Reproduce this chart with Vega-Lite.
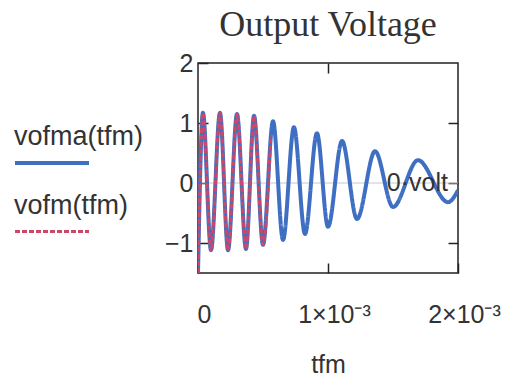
{
  "$schema": "https://vega.github.io/schema/vega-lite/v6.json",
  "width": 260,
  "height": 210,
  "autosize": {"type": "none"},
  "padding": {"left": 198, "top": 63, "right": 59, "bottom": 112},
  "background": "white",
  "title": {"text": "Output Voltage", "font": "Liberation Serif", "fontSize": 36, "fontWeight": "normal", "color": "#333333", "anchor": "middle", "baseline": "alphabetic", "offset": -21},
  "config": {
    "view": {"stroke": "#222222", "strokeWidth": 1.5},
    "axis": {"grid": false, "domain": false, "tickColor": "#222222", "tickWidth": 1.5, "tickSize": -10, "labelFont": "Liberation Sans", "labelFontSize": 25, "labelColor": "#333333", "labelFlush": false, "labelOverlap": false, "titleFont": "Liberation Sans", "titleFontWeight": "normal", "titleColor": "#333333", "titleFontSize": 25}
  },
  "datasets": {
    "curves": [
      {"series": "vofma(tfm)", "t": 0.0, "v": -1.5},
      {"series": "vofma(tfm)", "t": 0.000038, "v": 1.17},
      {"series": "vofma(tfm)", "t": 0.0001, "v": -1.12},
      {"series": "vofma(tfm)", "t": 0.000169, "v": 1.17},
      {"series": "vofma(tfm)", "t": 0.000231, "v": -1.12},
      {"series": "vofma(tfm)", "t": 0.0003, "v": 1.15},
      {"series": "vofma(tfm)", "t": 0.000369, "v": -1.1},
      {"series": "vofma(tfm)", "t": 0.000431, "v": 1.12},
      {"series": "vofma(tfm)", "t": 0.0005, "v": -1.03},
      {"series": "vofma(tfm)", "t": 0.000577, "v": 1.03},
      {"series": "vofma(tfm)", "t": 0.000654, "v": -0.95},
      {"series": "vofma(tfm)", "t": 0.000738, "v": 0.93},
      {"series": "vofma(tfm)", "t": 0.000823, "v": -0.85},
      {"series": "vofma(tfm)", "t": 0.000915, "v": 0.83},
      {"series": "vofma(tfm)", "t": 0.001, "v": -0.73},
      {"series": "vofma(tfm)", "t": 0.001108, "v": 0.7},
      {"series": "vofma(tfm)", "t": 0.001223, "v": -0.6},
      {"series": "vofma(tfm)", "t": 0.001362, "v": 0.53},
      {"series": "vofma(tfm)", "t": 0.0015, "v": -0.4},
      {"series": "vofma(tfm)", "t": 0.001692, "v": 0.38},
      {"series": "vofma(tfm)", "t": 0.001923, "v": -0.32},
      {"series": "vofma(tfm)", "t": 0.002, "v": -0.12},
      {"series": "vofm(tfm)", "t": 0.0, "v": -1.5},
      {"series": "vofm(tfm)", "t": 0.000038, "v": 1.17},
      {"series": "vofm(tfm)", "t": 0.0001, "v": -1.12},
      {"series": "vofm(tfm)", "t": 0.000169, "v": 1.17},
      {"series": "vofm(tfm)", "t": 0.000231, "v": -1.12},
      {"series": "vofm(tfm)", "t": 0.0003, "v": 1.15},
      {"series": "vofm(tfm)", "t": 0.000369, "v": -1.1},
      {"series": "vofm(tfm)", "t": 0.000431, "v": 1.12},
      {"series": "vofm(tfm)", "t": 0.0005, "v": -1.03},
      {"series": "vofm(tfm)", "t": 0.00056, "v": 0.8}
    ]
  },
  "resolve": {"axis": {"x": "independent", "y": "independent"}},
  "layer": [
    {
      "data": {"values": [{"v": 0}]},
      "mark": {"type": "rule", "color": "#c8c8c8", "strokeWidth": 1},
      "encoding": {
        "y": {"field": "v", "type": "quantitative", "scale": {"domain": [-1.5, 2], "nice": false, "zero": false}, "axis": null}
      }
    },
    {
      "data": {"name": "curves"},
      "transform": [{"filter": "datum.series === 'vofma(tfm)'"}],
      "mark": {"type": "line", "opacity": 0},
      "encoding": {
        "x": {"field": "t", "type": "quantitative", "axis": {"orient": "top", "values": [0.001], "labels": false, "title": null}},
        "y": {"field": "v", "type": "quantitative", "axis": {"orient": "right", "values": [-1, 0, 1], "labels": false, "title": null}}
      }
    },
    {
      "data": {"name": "curves"},
      "mark": {"type": "line", "interpolate": "monotone", "clip": true},
      "encoding": {
        "x": {"field": "t", "type": "quantitative", "scale": {"domain": [0, 0.002], "nice": false, "zero": false},
          "axis": {"orient": "bottom", "values": [0, 0.001, 0.002], "labelExpr": "datum.value == 0 ? '0' : format(datum.value * 1000, '.0f') + '×10⁻³'", "labelPadding": 39, "labelBaseline": "top", "labelOffset": 6, "title": "tfm", "titleBaseline": "alphabetic", "titleY": 99}},
        "y": {"field": "v", "type": "quantitative", "scale": {"domain": [-1.5, 2], "nice": false, "zero": false},
          "axis": {"orient": "left", "values": [-1, 0, 1, 2], "labelExpr": "datum.value < 0 ? '−' + abs(datum.value) : '' + datum.value", "labelPadding": 15, "title": null}},
        "color": {"field": "series", "type": "nominal", "sort": null,
          "scale": {"domain": ["vofma(tfm)", "vofm(tfm)"], "range": ["#3f6fc2", "#cc4868"]},
          "legend": {"orient": "none", "legendX": -185, "legendY": 61, "title": null, "padding": 0, "symbolType": "stroke", "symbolSize": 5476, "symbolStrokeWidth": 3, "rowPadding": 20, "labelOffset": -77, "labelFont": "Liberation Sans", "labelFontSize": 27, "labelColor": "#333333", "labelBaseline": "alphabetic",
            "encode": {"labels": {"update": {"dy": {"value": -18}}}}}},
        "strokeDash": {"field": "series", "type": "nominal", "sort": null,
          "scale": {"domain": ["vofma(tfm)", "vofm(tfm)"], "range": [[1, 0], [5, 2]]},
          "legend": null},
        "strokeWidth": {"field": "series", "type": "nominal", "sort": null,
          "scale": {"domain": ["vofma(tfm)", "vofm(tfm)"], "range": [4, 3]},
          "legend": null}
      }
    },
    {
      "data": {"values": [{"label": "0·volt", "v": 0}]},
      "mark": {"type": "text", "align": "right", "baseline": "middle", "dx": -10, "font": "Liberation Sans", "fontSize": 25, "color": "#333333"},
      "encoding": {
        "x": {"datum": 0.002, "type": "quantitative", "axis": null},
        "y": {"field": "v", "type": "quantitative", "axis": null},
        "text": {"field": "label"}
      }
    }
  ]
}
